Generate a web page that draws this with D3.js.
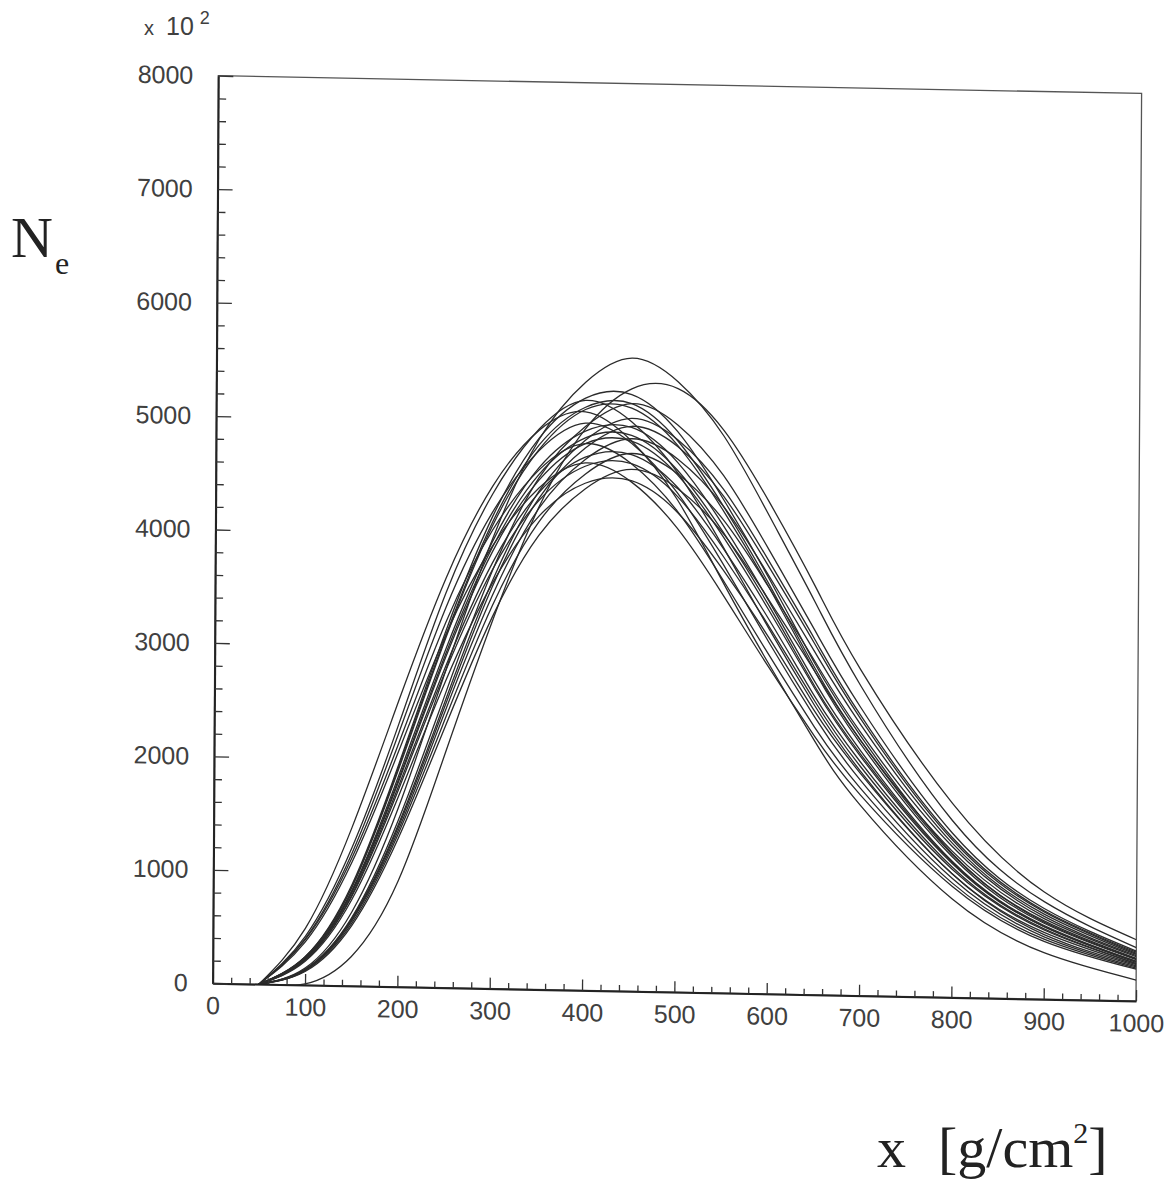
<!DOCTYPE html>
<html>
<head>
<meta charset="utf-8">
<script src="https://cdn.jsdelivr.net/npm/d3@7"></script>
<style>
  html, body { margin: 0; padding: 0; background: #fff; }
  svg { display: block; }
  .tick text { font-family: "Liberation Sans", Arial, sans-serif; font-size: 25px; fill: #404040; }
</style>
</head>
<body>
<div id="chart"></div>
<script>
// slant depths (g/cm2) shared by every profile
const depths = [50, 100, 150, 200, 250, 300, 350, 400, 450, 500, 550, 600, 650, 700, 800, 900, 1000];

// electron numbers (units of 10^2), one array per simulated shower
const showers = [
  [0, 150, 650, 1580, 2790, 3960, 4850, 5360, 5580, 5380, 4910, 4210, 3460, 2730, 1560, 860, 470],
  [0, 10, 260, 930, 2060, 3230, 4250, 4950, 5310, 5320, 4960, 4330, 3600, 2870, 1710, 945, 540],
  [0, 250, 890, 1960, 3140, 4160, 4860, 5220, 5260, 4940, 4350, 3660, 2920, 2290, 1270, 690, 375],
  [0, 430, 1220, 2320, 3480, 4360, 4940, 5200, 5020, 4580, 3930, 3220, 2550, 1980, 1090, 570, 310],
  [0, 140, 600, 1470, 2590, 3680, 4510, 4970, 5180, 5000, 4560, 3910, 3210, 2540, 1450, 800, 440],
  [0, 250, 870, 1940, 3100, 4110, 4800, 5140, 5180, 4860, 4290, 3610, 2880, 2250, 1260, 680, 370],
  [0, 500, 1400, 2530, 3610, 4430, 4930, 5100, 4850, 4340, 3620, 2910, 2240, 1680, 870, 410, 185],
  [0, 245, 870, 1920, 3080, 4080, 4760, 5120, 5140, 4820, 4250, 3580, 2850, 2220, 1240, 670, 365],
  [0, 140, 590, 1430, 2530, 3590, 4390, 4850, 5050, 4870, 4440, 3810, 3130, 2470, 1410, 780, 430],
  [0, 240, 840, 1860, 2980, 3940, 4600, 4930, 4970, 4670, 4120, 3460, 2760, 2160, 1200, 650, 350],
  [0, 410, 1170, 2240, 3350, 4200, 4750, 5000, 4830, 4400, 3780, 3100, 2450, 1900, 1050, 550, 300],
  [0, 130, 580, 1410, 2490, 3540, 4330, 4780, 4980, 4810, 4380, 3760, 3090, 2440, 1390, 770, 420],
  [0, 230, 830, 1830, 2940, 3890, 4540, 4870, 4900, 4600, 4060, 3420, 2720, 2130, 1190, 640, 350],
  [0, 230, 820, 1810, 2910, 3850, 4490, 4820, 4850, 4560, 4020, 3380, 2700, 2110, 1180, 640, 340],
  [0, 130, 570, 1380, 2440, 3460, 4240, 4680, 4870, 4700, 4290, 3680, 3020, 2390, 1360, 750, 410],
  [0, 400, 1130, 2150, 3220, 4040, 4580, 4820, 4650, 4240, 3640, 2990, 2360, 1830, 1010, 530, 290],
  [0, 220, 800, 1770, 2830, 3750, 4380, 4700, 4730, 4450, 3920, 3300, 2630, 2060, 1150, 620, 330],
  [0, 130, 550, 1350, 2370, 3370, 4120, 4550, 4740, 4570, 4170, 3580, 2940, 2320, 1330, 730, 400],
  [0, 220, 790, 1740, 2790, 3690, 4310, 4620, 4650, 4370, 3850, 3240, 2590, 2020, 1130, 610, 330],
  [0, 380, 1090, 2080, 3110, 3900, 4420, 4650, 4490, 4090, 3510, 2880, 2280, 1770, 980, 510, 280],
  [0, 120, 530, 1310, 2300, 3270, 4000, 4420, 4600, 4440, 4050, 3470, 2850, 2250, 1290, 710, 390],
  [0, 210, 760, 1680, 2700, 3570, 4170, 4470, 4500, 4230, 3730, 3140, 2500, 1960, 1090, 590, 320]
];

const xMajor = [0, 100, 200, 300, 400, 500, 600, 700, 800, 900, 1000];
const xMinor = d3.range(0, 1001, 20).filter(v => v % 100 !== 0);
const yMajor = [0, 1000, 2000, 3000, 4000, 5000, 6000, 7000, 8000];
const yMinor = d3.range(0, 8001, 200).filter(v => v % 1000 !== 0);

const W = 1170, H = 1181;
const plotW = 923.5, plotH = 907.6;

const svg = d3.select("#chart").append("svg").attr("width", W).attr("height", H);

// the scanned frame is slightly sheared, so the plot group is mapped onto it
const g = svg.append("g")
  .attr("transform", "matrix(0.99978,0.019166,-0.00617,1,218.3,75.7)");

const x = d3.scaleLinear().domain([0, 1000]).range([0, plotW]);
const y = d3.scaleLinear().domain([0, 8000]).range([plotH, 0]);

// frame
g.append("rect")
  .attr("x", 0).attr("y", 0).attr("width", plotW).attr("height", plotH)
  .attr("fill", "none").attr("stroke", "#555").attr("stroke-width", 1.3);

// curves, clipped to the frame so the spline never dips under the axis
g.append("clipPath").attr("id", "frame-clip")
  .append("rect").attr("x", 0).attr("y", 0).attr("width", plotW).attr("height", plotH);

const line = d3.line()
  .x((d, i) => x(depths[i]))
  .y(d => y(d))
  .curve(d3.curveNatural);

g.append("g").attr("clip-path", "url(#frame-clip)")
  .selectAll("path")
  .data(showers)
  .join("path")
  .attr("d", line)
  .attr("fill", "none")
  .attr("stroke", "#2b2b2b")
  .attr("stroke-width", 1.3);

// axes, ticks pointing into the plot
g.append("g").attr("transform", `translate(0,${plotH})`)
  .call(d3.axisBottom(x).tickValues(xMajor).tickSizeInner(-11).tickSizeOuter(0).tickPadding(13).tickFormat(d3.format("d")));
g.append("g").attr("transform", `translate(0,${plotH})`)
  .call(d3.axisBottom(x).tickValues(xMinor).tickSizeInner(-6).tickSizeOuter(0).tickFormat(""))
  .select(".domain").remove();

g.append("g")
  .call(d3.axisLeft(y).tickValues(yMajor).tickSizeInner(-15).tickSizeOuter(0).tickPadding(25).tickFormat(d3.format("d")));
g.append("g")
  .call(d3.axisLeft(y).tickValues(yMinor).tickSizeInner(-8).tickSizeOuter(0).tickFormat(""))
  .select(".domain").remove();

g.selectAll(".domain").attr("stroke", "#222").attr("stroke-width", 2);
g.selectAll(".tick line").attr("stroke", "#333").attr("stroke-width", 1.3);

// multiplier
const mult = svg.append("text")
  .attr("y", 35)
  .style("font-family", "'Liberation Sans', Arial, sans-serif")
  .style("fill", "#404040");
mult.append("tspan").attr("x", 144).style("font-size", "20px").text("x");
mult.append("tspan").attr("x", 166).style("font-size", "25px").text("10");
mult.append("tspan").attr("dx", 6).attr("dy", -11).style("font-size", "18px").text("2");

// axis titles
const ne = svg.append("text")
  .attr("x", 11).attr("y", 257)
  .style("font-family", "'Liberation Serif', 'Times New Roman', serif")
  .style("fill", "#222");
ne.append("tspan").style("font-size", "58px").text("N");
ne.append("tspan").attr("dx", 2).attr("dy", 17).style("font-size", "32px").text("e");

const xt = svg.append("text")
  .attr("x", 877).attr("y", 1167)
  .style("font-family", "'Liberation Serif', 'Times New Roman', serif")
  .style("font-size", "58px")
  .style("fill", "#222");
xt.append("tspan").text("x");
xt.append("tspan").attr("x", 938).text("[g/cm");
xt.append("tspan").attr("dy", -24).style("font-size", "30px").text("2");
xt.append("tspan").attr("dy", 24).text("]");
</script>
</body>
</html>
